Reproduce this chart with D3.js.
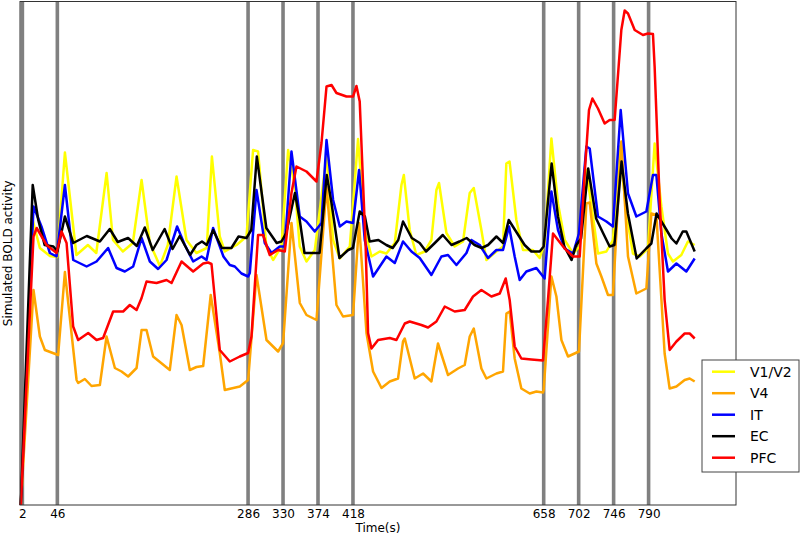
<!DOCTYPE html>
<html>
<head>
<meta charset="utf-8">
<script src="https://cdn.jsdelivr.net/npm/d3@7"></script>
<style>
  body { margin: 0; background: #fff; }
  text { font-family: "DejaVu Sans", sans-serif; }
</style>
</head>
<body>
<div id="chart"></div>
<script>
// stimulus onsets (also the tick labels)
var onsets = [2, 46, 286, 330, 374, 418, 658, 702, 746, 790];

// [time (s), simulated BOLD (a.u.)]
var v1v2 = [[0,0],[15,57],[24,51.4],[36.6,49.8],[45.8,49.6],[55.5,70.5],[70,50],[84.4,52],[95,50.4],[108,66.4],
  [116,53],[128.4,50.7],[141,52.4],[152,65],[162.4,52.4],[175,47.8],[185,52],[196,65.7],[208.5,53],[221,50.4],
  [234,51.4],[240.5,69.7],[250.4,53.7],[256.7,50.7],[271.5,52],[284,53.7],[292.3,71],[298.6,70.7],[309,51.7],
  [317.5,49],[328,51.7],[336.4,71],[344.8,63.7],[351,51.7],[359.5,48.7],[370,51],[384.7,69.7],[393,53],[401.4,49.3],
  [414,51.7],[424.4,73.2],[432.8,55],[441.3,49.7],[451.7,50.7],[460,50.3],[470.6,52.4],[479,64],[482,66],[489.4,55],
  [497.8,50],[508.3,50.7],[516.7,53],[523,63],[526.3,64.4],[535.6,54.4],[546,51.7],[556.5,52.7],[564.9,62.4],
  [570,63.4],[579.6,55],[585.9,49],[598.5,50.7],[606.8,51.7],[611,68.3],[615,68.7],[623.6,57],[632,51],[644.5,51],
  [652.9,49.4],[659.2,52.4],[667.7,73.3],[676,60.3],[684.4,53],[694.9,50.3],[703.3,51.7],[711.7,67],[720,57.7],
  [726.3,50.3],[736.9,50.7],[745.2,53],[753.6,71.7],[762.1,58.3],[770.3,50.3],[778.8,49.7],[789.2,51.3],[797.6,72.3],
  [806.1,59.7],[814.4,50.3],[820.7,48.7],[831.2,50],[839.5,52.7],[848,52]];

var v4 = [[0,0],[16,43],[24,33.7],[30.3,31],[47,30],[55.5,46.6],[70.2,25],[72.2,24.4],[80.6,25.2],[89,23.8],
  [99.5,24],[107.9,33.7],[118.4,27.4],[126.8,26.7],[135.1,25.7],[145.7,27.4],[152,35],[158.2,35],[166.5,29.7],
  [187.5,27],[196,38],[202.3,36],[212.7,27],[221.1,27.6],[229.5,27.8],[239,42],[250.4,30.4],[256.7,23],[275.6,23.7],
  [286.1,25],[296.6,46],[309.2,33],[323.8,30.7],[330.1,32.4],[340.6,56.4],[351.1,40.4],[359.5,38],[372.1,37],
  [384.7,63.7],[397.2,40],[405.5,37.7],[418.1,38],[425.7,56.4],[435,34.4],[443.3,26.7],[453.9,23.4],[464.3,24.7],
  [474.7,25.3],[481,32.7],[483.2,33.3],[495.7,25.3],[506.2,26.3],[516.7,24.7],[525,32.3],[537.6,26],[550.2,27.3],
  [558.6,28],[564.9,33.7],[570,35.3],[579.6,27.3],[585.9,25.3],[598.5,26.3],[606.8,26.7],[611.1,38.3],[615.2,38.7],
  [621.5,29.3],[629.9,23.3],[640.4,22.3],[648.8,22.7],[657.1,22.5],[658,23],[667.7,45.7],[674,41.7],[680.3,33],
  [688.6,29.7],[702.4,30.7],[711.7,60.3],[715.9,60.5],[724.3,48.3],[730.6,45.7],[738.9,42],[745.2,42],[755.7,72.7],
  [764.1,49.7],[774.6,42.3],[787.2,43.3],[793.5,58.3],[799.8,58],[810.2,30.3],[816.5,23.3],[825,23.7],[835.4,25],
  [841.7,25.3],[848,24.7]];

var it = [[0,0],[16,59.7],[26,55.7],[36.6,50.4],[45,49.7],[55.5,64],[66,49],[82.8,47.7],[95.3,48.7],[109.9,51.4],
  [120.5,47.4],[130.9,46.7],[141.4,47.7],[152,53.4],[162.4,48.7],[172.8,47.2],[183.4,49],[196.7,55.7],[206.4,52],
  [216.9,48.7],[227.5,49.7],[233.7,49],[242,55.4],[255,49.7],[263,48],[269.3,47.7],[277.7,46.3],[286.1,45.7],
  [288.2,46.4],[296.6,63],[307,52.4],[315.5,50.4],[325.9,51.7],[332.2,51.7],[340.6,70.7],[351,57.7],[359.5,56.7],
  [369.9,54.7],[378.4,56.4],[384.7,73],[393,61],[401.4,55.7],[409.8,56.7],[418.1,56.4],[425.7,67],[432.8,53],
  [443.3,45.7],[451.7,47.7],[460.1,49.7],[470.6,48.4],[481,52.7],[491.6,50.7],[502,49.4],[516.7,46],[529.3,49.7],
  [537.6,50],[548.2,48],[560.8,50.4],[567.1,53],[577.5,52],[587.9,49.4],[598.5,51],[606.8,51],[614.4,55.7],
  [621.5,49.7],[627.8,45],[636.2,46.7],[648.8,47.4],[659.2,45.3],[667.7,62.7],[676,55],[684.4,51.3],[694.9,50.3],
  [702.4,54.3],[711.7,71.7],[715.9,71.3],[726.3,57.7],[736.9,56.7],[745.2,55.7],[754.9,79],[764.1,62.3],[774.6,57.7],
  [787.2,58.7],[795.5,66],[799.8,66],[806.1,54.3],[814.4,46.7],[825,48.3],[837.5,46.7],[848,49.3]];

var ec = [[0,0],[15,64],[22,57],[30,52],[41,51.7],[46,50.7],[55.5,57.7],[66,52.4],[83,53.8],[89,53.4],[99.5,52.7],
  [112,55.2],[122,52.6],[135,53.4],[146,51.8],[156,55.5],[166,51],[181,55.2],[191,51.2],[200,53.8],[213,50],
  [221,52],[228,52.7],[234,52],[242,55],[253,51.4],[265,51.4],[274,53.7],[284,53.4],[290,55],[297,69.7],[309,55.4],
  [322,52.4],[328,52.7],[334,54.4],[345,62.4],[351,57],[357,50.4],[366,50.4],[376,50.4],[385,66],[391,60.4],
  [401,49.4],[412,51],[418,51.4],[426.5,58.7],[433,57.7],[439,52.7],[450,53],[460,52],[468,51.4],[475,53],[481,56.7],
  [492,53.4],[502,52.4],[510,50.7],[521,52.4],[531,54],[542,52],[552,52.7],[561,53.4],[571,52],[580,51.4],[588,52],
  [598.5,53.7],[607,52.4],[614,57],[626,54],[634,52],[642.5,50.7],[653,50.7],[658,51.7],[668,68.3],[676,57.7],
  [684,51.7],[693,49],[699,52],[705,53.3],[714,67.3],[724,57.3],[733,54.3],[741,51.7],[747,52],[756,68.7],[764,58.3],
  [775,49.3],[787,51.3],[793.5,52.3],[800,58.3],[810,55.7],[819,53.3],[825,52.3],[833,54.7],[837.5,54.7],[848,50.7]];

var pfc = [[0,0],[16,53.7],[20,55.4],[32.4,52],[45,50.4],[51.3,54.7],[57.6,52.4],[65.9,35.7],[72.2,33],[84.8,34.4],
  [95.3,33],[103.6,33.4],[116.2,38.7],[128.8,38.7],[137.2,40],[145.7,39],[152,41.4],[158.2,44.7],[170.8,44.4],
  [183.4,45],[189.7,44.4],[202.3,48.7],[216.9,46.7],[229.5,48.3],[235.7,48.5],[240,48.2],[250.4,31],[263,28.7],
  [275.6,29.7],[286.1,30.4],[290.3,33.7],[298.6,54],[304.9,54],[313.3,50],[323.8,51],[332.2,50.7],[340.6,62.4],
  [346.9,67.7],[359.5,66.7],[372.1,64.7],[378.4,72.4],[384.7,83.7],[391,84],[397.2,82.4],[409.8,81.7],[418.1,81.7],
  [422.4,83.8],[426.5,80.7],[434,51.5],[437,34.4],[441.3,31.3],[449.6,33],[464.3,33.4],[472.7,33],[483.2,36.3],
  [489.4,36.7],[504.1,36],[512.5,35.5],[523,36.7],[533.5,39.7],[546,38.7],[558.6,39],[569.1,41.7],[579.6,43],
  [592.2,41.7],[602.7,42.3],[610.2,45.3],[615.2,41],[621.5,31.7],[629.9,29.3],[642.5,29.1],[657.1,28.9],[663.4,41],
  [669.7,54.3],[676,53],[684.4,51.3],[694.9,49.7],[703.3,49.7],[709.6,66.3],[715,79],[719.3,81.3],[726.3,79.3],
  [734.7,76.3],[741,77],[747.3,77],[755.7,95],[759.9,98.9],[764.1,98.3],[772.5,95],[782.9,94],[789.2,94.3],
  [795.5,94.2],[797.6,87.7],[803.9,61],[810.2,41],[816.5,31],[825,32.7],[835.4,34.3],[841.7,34.3],[848,33.3]];

var names = ["V1/V2", "V4", "IT", "EC", "PFC"];
var colors = ["#ffff00", "#ffa500", "#0000ff", "#000000", "#ff0000"];
var series = [v1v2, v4, it, ec, pfc];

var margin = {top: 1.5, right: 64, bottom: 31, left: 20},
    width = 800 - margin.left - margin.right,
    height = 536 - margin.top - margin.bottom;

var x = d3.scaleLinear().domain([-1, 900]).range([0, width]);
var y = d3.scaleLinear().domain([0, 100.7]).range([height, 0]);

var svg = d3.select("#chart").append("svg")
    .attr("width", 800)
    .attr("height", 536)
  .append("g")
    .attr("transform", "translate(" + margin.left + "," + margin.top + ")");

// onset markers
svg.selectAll(".onset")
    .data(onsets)
  .enter().append("line")
    .attr("class", "onset")
    .attr("x1", function(d) { return x(d); })
    .attr("x2", function(d) { return x(d); })
    .attr("y1", 0)
    .attr("y2", height)
    .attr("stroke", "#808080")
    .attr("stroke-width", 3.6);

var line = d3.line()
    .x(function(d) { return x(d[0]); })
    .y(function(d) { return y(d[1]); });

series.forEach(function(s, i) {
  svg.append("path")
      .attr("d", line(s))
      .attr("fill", "none")
      .attr("stroke", colors[i])
      .attr("stroke-width", 2.5)
      .attr("stroke-linejoin", "round");
});

// frame
svg.append("rect")
    .attr("width", width)
    .attr("height", height)
    .attr("fill", "none")
    .attr("stroke", "#333")
    .attr("stroke-width", 1);

var xAxis = svg.append("g")
    .attr("transform", "translate(0," + height + ")")
    .call(d3.axisBottom(x).tickValues(onsets).tickSize(0).tickPadding(4));
xAxis.select(".domain").remove();
xAxis.selectAll("text").attr("font-size", 12).attr("font-family", "DejaVu Sans").attr("fill", "#000");

svg.append("text")
    .attr("x", width / 2)
    .attr("y", height + 27)
    .attr("text-anchor", "middle")
    .attr("font-size", 12)
    .text("Time(s)");

svg.append("text")
    .attr("transform", "translate(" + (-8) + "," + (height / 2) + ") rotate(-90)")
    .attr("text-anchor", "middle")
    .attr("font-size", 12)
    .text("Simulated BOLD activity");

// legend
var legend = svg.append("g")
    .attr("transform", "translate(" + (702 - margin.left) + "," + (360 - margin.top) + ")");
legend.append("rect")
    .attr("width", 97)
    .attr("height", 112)
    .attr("fill", "#fff")
    .attr("stroke", "#444")
    .attr("stroke-width", 1);
names.forEach(function(n, i) {
  var ly = 11.7 + i * 21.5;
  legend.append("line")
      .attr("x1", 10).attr("x2", 33)
      .attr("y1", ly).attr("y2", ly)
      .attr("stroke", colors[i])
      .attr("stroke-width", 2.5);
  legend.append("text")
      .attr("x", 48)
      .attr("y", ly + 5)
      .attr("font-size", 14)
      .text(n);
});
</script>
</body>
</html>
